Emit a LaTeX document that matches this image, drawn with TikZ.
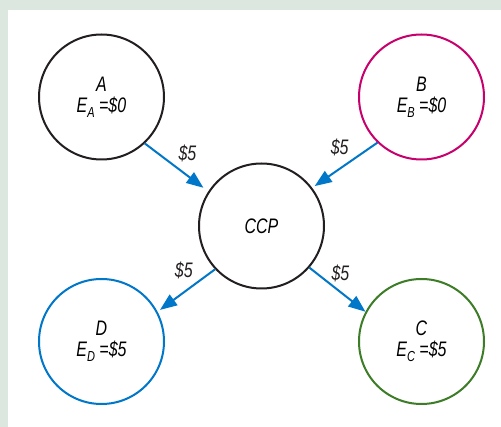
\documentclass[tikz,border=0pt]{standalone}
\usepackage{fontspec}
\setmainfont{Liberation Sans}[FakeStretch=0.76]
\usetikzlibrary{arrows.meta}

\definecolor{framebg}{RGB}{220,232,223}
\definecolor{ink}{RGB}{35,31,32}
\definecolor{flowblue}{RGB}{0,119,200}
\definecolor{partyb}{RGB}{200,0,110}
\definecolor{partyc}{RGB}{61,125,40}

\newcommand{\acct}[1]{E\raisebox{-5pt}{\fontsize{14.5}{14.5}\selectfont #1}}

\begin{document}
\begin{tikzpicture}[x=1pt,y=-1pt,
    font=\fontsize{21}{21}\selectfont\itshape,
    money/.style={draw=flowblue,line width=2pt,-{Triangle[length=17pt,width=13pt]}}]

        % frame
        \fill[framebg] (0,0) rectangle (501,427);
        \fill[white] (8,10) rectangle (501,427);

        \begin{scope}[every node/.style={circle,draw,line width=2pt,minimum size=125pt,inner sep=0pt,align=center}]
          \node[draw=ink]     (A)   at (101.5,97)  {A\\\acct{A} =\$0};
          \node[draw=partyb]  (B)   at (421.5,97)  {B\\\acct{B} =\$0};
          \node[draw=ink]     (CCP) at (261.5,226) {CCP};
          \node[draw=flowblue](D)   at (101.5,341.5) {D\\\acct{D} =\$5};
          \node[draw=partyc]  (C)   at (421.5,341.5) {C\\\acct{C} =\$5};
        \end{scope}

        \begin{scope}[every node/.style={text=ink,inner sep=3pt}]
          \path (A.-47)    edge[money,shorten >=6pt] node[pos=0.47,above right]  {\$5} (CCP.147);
          \path (B.-134)   edge[money,shorten >=3pt] node[pos=0.38,above left]   {\$5} (CCP.37);
          \path (CCP.-137) edge[money,shorten >=3pt] node[pos=0.32,above left]   {\$5} (D.28);
          \path (CCP.-41)  edge[money]               node[pos=0.36,above right,inner sep=1pt] {\$5} (C.152);
        \end{scope}

      \end{tikzpicture}
\end{document}
